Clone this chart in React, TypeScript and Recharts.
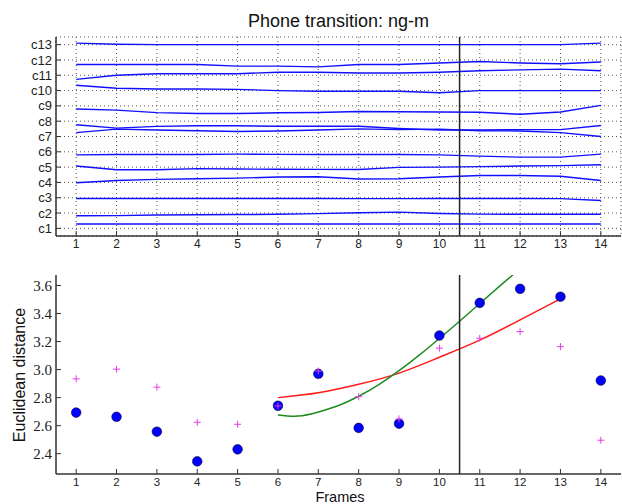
import React from "react"
import { LineChart, ComposedChart, Line, Scatter, XAxis, YAxis, CartesianGrid, ReferenceLine } from "recharts"

// frames and coefficient names
const frames = [1, 2, 3, 4, 5, 6, 7, 8, 9, 10, 11, 12, 13, 14]
const coeffLabels = ["c1", "c2", "c3", "c4", "c5", "c6", "c7", "c8", "c9", "c10", "c11", "c12", "c13"]

// cepstral coefficient tracks (offset to their own row)
const c1 = [1.28, 1.28, 1.28, 1.28, 1.28, 1.28, 1.28, 1.28, 1.28, 1.28, 1.28, 1.28, 1.28, 1.28]
const c2 = [1.82, 1.83, 1.87, 1.89, 1.9, 1.92, 1.96, 2.02, 2.06, 1.97, 1.93, 1.92, 1.92, 1.92]
const c3 = [2.95, 2.95, 2.95, 2.95, 2.95, 2.95, 2.95, 2.94, 2.94, 2.95, 2.95, 2.95, 2.94, 2.82]
const c4 = [3.98, 4.13, 4.2, 4.24, 4.28, 4.35, 4.37, 4.22, 4.24, 4.35, 4.45, 4.45, 4.4, 4.13]
const c5 = [5.07, 4.83, 4.83, 4.9, 4.88, 4.86, 4.85, 4.84, 4.98, 5.0, 5.03, 5.07, 5.1, 5.15]
const c6 = [5.8, 5.82, 5.82, 5.82, 5.85, 5.83, 5.82, 5.82, 5.82, 5.8, 5.72, 5.65, 5.65, 5.85]
const c7 = [7.25, 7.48, 7.42, 7.38, 7.33, 7.36, 7.42, 7.5, 7.45, 7.48, 7.38, 7.36, 7.25, 7.0]
const c8 = [7.77, 7.55, 7.66, 7.7, 7.7, 7.67, 7.67, 7.67, 7.52, 7.42, 7.42, 7.45, 7.45, 7.72]
const c9 = [8.8, 8.72, 8.56, 8.5, 8.5, 8.55, 8.57, 8.63, 8.62, 8.6, 8.58, 8.45, 8.6, 9.03]
const c10 = [10.35, 10.15, 10.1, 10.1, 10.08, 10.0, 9.96, 9.96, 9.96, 9.86, 10.0, 10.0, 10.0, 10.0]
const c11 = [10.73, 11.0, 11.1, 11.1, 11.1, 11.2, 11.2, 11.15, 11.15, 11.2, 11.3, 11.35, 11.4, 11.3]
const c12 = [11.7, 11.7, 11.7, 11.7, 11.6, 11.6, 11.55, 11.7, 11.7, 11.8, 11.9, 11.8, 11.75, 11.87]
const c13 = [13.1, 13.03, 13.0, 13.0, 13.0, 13.0, 13.0, 13.0, 13.0, 13.0, 13.0, 13.0, 13.0, 13.1]
const coeffSeries = [c1, c2, c3, c4, c5, c6, c7, c8, c9, c10, c11, c12, c13]

// euclidean distance panel
const distTicks = [2.4, 2.6, 2.8, 3.0, 3.2, 3.4, 3.6]
const distance = [2.693, 2.663, 2.557, 2.345, 2.431, 2.742, 2.97, 2.584, 2.614, 3.243, 3.476, 3.576, 3.52, 2.922]
const distanceAlt = [2.934, 3.003, 2.875, 2.624, 2.61, 2.741, 2.99, 2.807, 2.648, 3.153, 3.224, 3.271, 3.164, 2.496]
const redFitFrames = [6, 7, 8, 9, 10, 11, 12, 13]
const redFit = [2.8, 2.835, 2.895, 2.975, 3.088, 3.21, 3.355, 3.505]
const greenFitFrames = [6, 6.5, 7, 7.5, 8, 8.5, 9, 9.5, 10, 10.5, 11, 11.5, 12]
const greenFit = [2.676, 2.668, 2.698, 2.744, 2.81, 2.893, 2.992, 3.103, 3.222, 3.345, 3.472, 3.597, 3.72]
const boundary = 10.5

const sans = '"Liberation Sans", Arial, sans-serif'
const serif = '"Liberation Serif", "Times New Roman", serif'
const frameColor = "#333"
const textColor = "#222"

const LEFT = 56
const RIGHT = 621
// top panel (svg coords == page coords)
const TOP1 = 37
const BOT1 = 236
// bottom panel (svg placed at page y=260)
const TOP2 = 15
const BOT2 = 214

const leftTick = (fmt: (v: number) => string, font: string, size: number) => (p: any) => {
  const y = p.payload.coordinate
  return (
    <g>
      <line x1={LEFT} x2={LEFT + 5} y1={y} y2={y} stroke={frameColor} strokeWidth={1} />
      <text x={LEFT - 4} y={y} dy="0.35em" textAnchor="end" fontFamily={font} fontSize={size} fill={textColor}>
        {fmt(p.payload.value)}
      </text>
    </g>
  )
}

const rightTick = (p: any) => {
  const y = p.payload.coordinate
  return <line x1={RIGHT - 5} x2={RIGHT} y1={y} y2={y} stroke={frameColor} strokeWidth={1} />
}

const bottomTick = (bottom: number, size: number, labelY: number) => (p: any) => {
  const x = p.payload.coordinate
  return (
    <g>
      <line x1={x} x2={x} y1={bottom} y2={bottom - 5} stroke={frameColor} strokeWidth={1} />
      <text x={x} y={labelY} dy="0.35em" textAnchor="middle" fontFamily={sans} fontSize={size} fill={textColor}>
        {p.payload.value}
      </text>
    </g>
  )
}

const topTick = (top: number) => (p: any) => {
  const x = p.payload.coordinate
  return <line x1={x} x2={x} y1={top} y2={top + 5} stroke={frameColor} strokeWidth={1} />
}

const BlueDot = (p: any) => <circle cx={p.cx} cy={p.cy} r={4.8} fill="#0000ff" stroke="#000033" strokeWidth={0.6} />

const PlusMark = (p: any) => (
  <g stroke="#e83ce8" strokeWidth={1}>
    <line x1={p.cx - 3.5} x2={p.cx + 3.5} y1={p.cy} y2={p.cy} />
    <line x1={p.cx} x2={p.cx} y1={p.cy - 3.5} y2={p.cy + 3.5} />
  </g>
)

const axisLine = { stroke: frameColor, strokeWidth: 1.5 }

export default function App() {
  const trackData = frames.map((f, i) => {
    const row: any = { frame: f }
    coeffLabels.forEach((lab, k) => (row[lab] = coeffSeries[k][i]))
    return row
  })
  const coeffTicks = coeffLabels.map((_, i) => i + 1)
  const blueData = frames.map((f, i) => ({ x: f, y: distance[i] }))
  const plusData = frames.map((f, i) => ({ x: f, y: distanceAlt[i] }))
  const redData = redFitFrames.map((f, i) => ({ x: f, y: redFit[i] }))
  const greenData = greenFitFrames.map((f, i) => ({ x: f, y: greenFit[i] }))

  return (
    <div style={{ position: "absolute", left: 0, top: 0, width: 622, height: 504, overflow: "hidden", background: "#fff" }}>
      <div style={{ position: "absolute", left: 0, top: 0 }}>
        <LineChart width={622} height={260} data={trackData} margin={{ top: TOP1, right: 1, bottom: 0, left: 0 }}>
          <CartesianGrid stroke="#555" strokeDasharray="1 3" strokeWidth={1} />
          <XAxis dataKey="frame" type="number" domain={[0.5, 14.5]} ticks={frames} interval={0} allowDataOverflow
            height={24} axisLine={axisLine} tickLine={false} tick={bottomTick(BOT1, 12, 244)} />
          <XAxis xAxisId="top" orientation="top" type="number" domain={[0.5, 14.5]} ticks={frames} interval={0} allowDataOverflow
            height={0} axisLine={axisLine} tickLine={false} tick={topTick(TOP1)} />
          <YAxis type="number" domain={[0.5, 13.5]} ticks={coeffTicks} interval={0} allowDataOverflow
            width={56} axisLine={axisLine} tickLine={false} tick={leftTick((v) => coeffLabels[v - 1], sans, 13)} />
          <YAxis yAxisId="right" orientation="right" type="number" domain={[0.5, 13.5]} ticks={coeffTicks} interval={0} allowDataOverflow
            width={0} axisLine={axisLine} tickLine={false} tick={rightTick} />
          {coeffLabels.map((lab) => (
            <Line key={lab} dataKey={lab} type="linear" stroke="#1010ff" strokeWidth={1.4} dot={false} isAnimationActive={false} />
          ))}
          <ReferenceLine x={boundary} stroke="#222" strokeWidth={1.5} />
        </LineChart>
      </div>
      <div style={{ position: "absolute", left: 0, top: 260 }}>
        <ComposedChart width={622} height={244} margin={{ top: TOP2, right: 1, bottom: 0, left: 0 }}>
          <XAxis dataKey="x" type="number" domain={[0.5, 14.5]} ticks={frames} interval={0} allowDataOverflow
            height={30} axisLine={axisLine} tickLine={false} tick={bottomTick(BOT2, 11.5, 221.5)} />
          <XAxis xAxisId="top" orientation="top" type="number" domain={[0.5, 14.5]} ticks={frames} interval={0} allowDataOverflow
            height={0} axisLine={axisLine} tickLine={false} tick={topTick(TOP2)} />
          <YAxis type="number" domain={[2.255, 3.675]} ticks={distTicks} interval={0} allowDataOverflow
            width={56} axisLine={axisLine} tickLine={false} tick={leftTick((v) => v.toFixed(1), serif, 15)} />
          <YAxis yAxisId="right" orientation="right" type="number" domain={[2.255, 3.675]} ticks={distTicks} interval={0} allowDataOverflow
            width={0} axisLine={axisLine} tickLine={false} tick={rightTick} />
          <Scatter data={blueData} dataKey="y" shape={BlueDot} isAnimationActive={false} />
          <Scatter data={plusData} dataKey="y" shape={PlusMark} isAnimationActive={false} />
          <Line data={redData} dataKey="y" type="natural" stroke="#ff1a1a" strokeWidth={1.5} dot={false} isAnimationActive={false} />
          <Line data={greenData} dataKey="y" type="natural" stroke="#1e8c1e" strokeWidth={1.5} dot={false} isAnimationActive={false} />
          <ReferenceLine x={boundary} stroke="#222" strokeWidth={1.5} />
        </ComposedChart>
      </div>
      <svg width={622} height={504} style={{ position: "absolute", left: 0, top: 0, pointerEvents: "none" }}>
        <text x={338.5} y={26.5} textAnchor="middle" fontFamily={sans} fontSize={18} fill="#111">
          Phone transition: ng-m
        </text>
        <text x={340} y={502} textAnchor="middle" fontFamily={sans} fontSize={14.5} fill="#111">
          Frames
        </text>
        <text x={25} y={375} transform="rotate(-90 25 375)" textAnchor="middle" fontFamily={sans} fontSize={16} fill="#111">
          Euclidean distance
        </text>
      </svg>
    </div>
  )
}
